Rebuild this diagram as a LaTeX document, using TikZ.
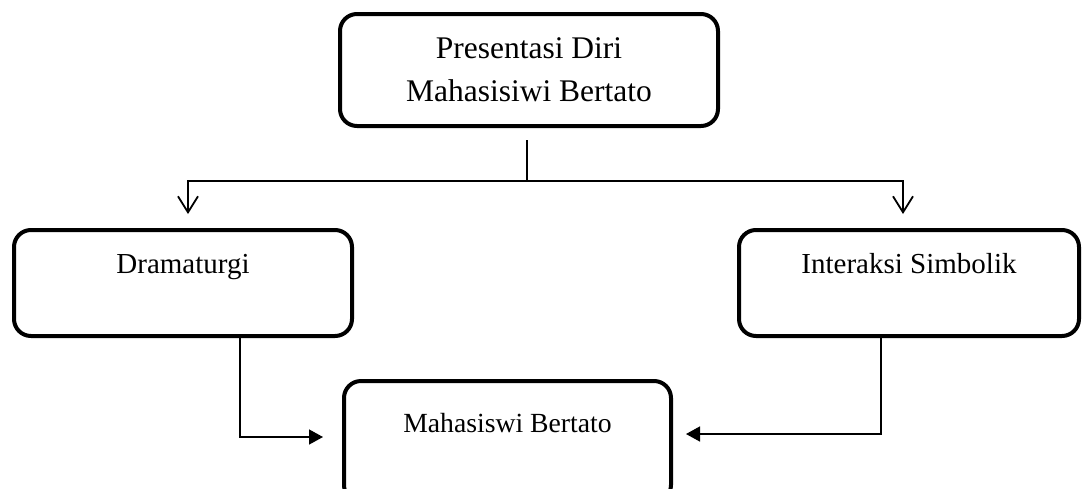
\documentclass[tikz,border=0pt]{standalone}
\usepackage{fontspec}
\setmainfont{Liberation Serif}
\usetikzlibrary{arrows.meta}
\tikzset{
  box/.style={draw, line width=4pt, rounded corners=17pt, inner sep=0pt, align=center},
  openarrow/.style={line width=1.5pt, -{Straight Barb[length=16pt,width=20pt,line width=1.8pt]}},
  fillarrow/.style={line width=1.5pt, -{Triangle[length=14pt,width=15pt]}},
  plain/.style={line width=1.5pt}
}
\begin{document}
\begin{tikzpicture}[x=1pt,y=-1pt]
\clip (0,0) rectangle (1084,488);
\fill[white] (0,0) rectangle (1084,488);
\node[box, minimum width=378pt, minimum height=112pt, font=\fontsize{31.5}{43}\selectfont] (top) at (529,70) {Presentasi Diri\\Mahasisiwi Bertato};
\node[box, minimum width=338pt, text height=43pt, text depth=63pt, font=\fontsize{29}{35}\selectfont] (drama) at (183,283) {Dramaturgi};
\node[box, minimum width=340pt, text height=43pt, text depth=63pt, font=\fontsize{29}{35}\selectfont] (inter) at (909,283) {Interaksi Simbolik};
\node[box, minimum width=327pt, text height=51pt, text depth=70pt, font=\fontsize{27.7}{34}\selectfont] (maha) at (507.5,441.5) {Mahasiswi Bertato};
\coordinate (s0) at (527,140);
\coordinate (j) at (527,181);
\coordinate (aL) at (188,214);
\coordinate (aR) at (903,214);
\coordinate (tipL) at (323,437);
\coordinate (tipR) at (686,434);
\draw[plain] (s0) -- (j);
\draw[openarrow] (j) -| (aL);
\draw[openarrow] (j) -| (aR);
\draw[fillarrow] ([xshift=57pt]drama.south) |- (tipL);
\draw[fillarrow] ([xshift=-28pt]inter.south) |- (tipR);
\end{tikzpicture}
\end{document}
